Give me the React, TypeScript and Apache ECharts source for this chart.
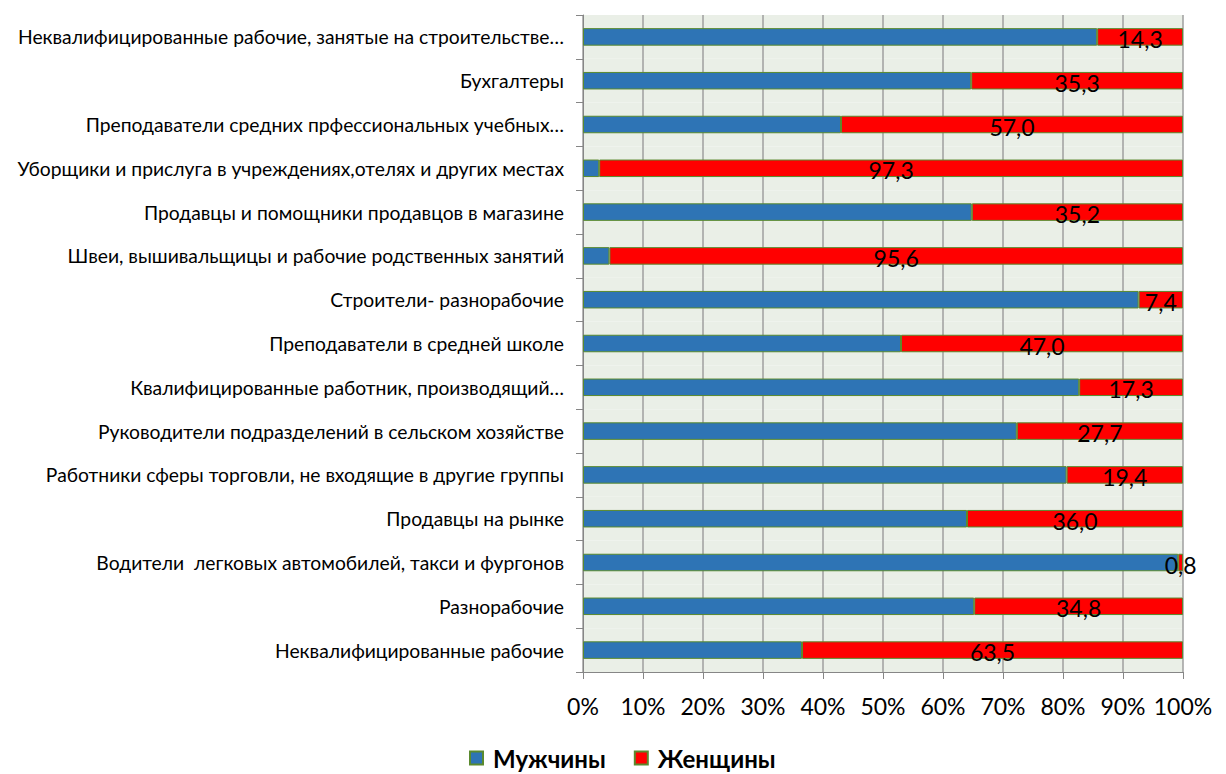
import React, { useEffect, useRef } from "react";
import * as echarts from "echarts";

const categories = [
  "Неквалифицированные рабочие, занятые на строительстве…",
  "Бухгалтеры",
  "Преподаватели средних прфессиональных учебных…",
  "Уборщики и прислуга в учреждениях,отелях и других местах",
  "Продавцы и помощники продавцов в магазине",
  "Швеи, вышивальщицы и рабочие родственных занятий",
  "Строители- разнорабочие",
  "Преподаватели в средней школе",
  "Квалифицированные работник, производящий…",
  "Руководители подразделений в сельском хозяйстве",
  "Работники сферы торговли, не входящие в другие группы",
  "Продавцы на рынке",
  "Водители  легковых автомобилей, такси и фургонов",
  "Разнорабочие",
  "Неквалифицированные рабочие",
];

const women = [14.3, 35.3, 57.0, 97.3, 35.2, 95.6, 7.4, 47.0, 17.3, 27.7, 19.4, 36.0, 0.8, 34.8, 63.5];
const men = [85.7, 64.7, 43.0, 2.7, 64.8, 4.4, 92.6, 53.0, 82.7, 72.3, 80.6, 64.0, 99.2, 65.2, 36.5];

const xTicks = [0, 10, 20, 30, 40, 50, 60, 70, 80, 90, 100];

const FONT = "Lato, 'Open Sans', sans-serif";

export default function App() {
  const ref = useRef<HTMLDivElement>(null);
  useEffect(() => {
    document.documentElement.style.overflow = "hidden";
    document.body.style.overflow = "hidden";
    if (!ref.current) return;
    const chart = echarts.init(ref.current, undefined, { renderer: "svg" });
    chart.setOption({
      animation: false,
      backgroundColor: "#ffffff",
      grid: { left: 575, right: 35, top: 7, bottom: 102, containLabel: false },
      legend: {
        top: 733,
        left: 456,
        itemWidth: 13,
        itemHeight: 13,
        itemGap: 28,
        icon: "rect",
        textStyle: { fontFamily: FONT, fontSize: 24, fontWeight: "bold", color: "#000", padding: [0, 0, 0, 5] },
        data: ["Мужчины", "Женщины"],
      },
      xAxis: {
        type: "value",
        min: xTicks[0],
        max: xTicks[xTicks.length - 1],
        interval: 10,
        axisLine: { show: true, lineStyle: { color: "#868686" } },
        axisTick: { show: true, length: 7, lineStyle: { color: "#868686" } },
        axisLabel: {
          formatter: (v: number) => v + "%",
          fontFamily: FONT,
          fontSize: 23,
          color: "#000",
          margin: 22,
        },
        splitLine: { show: true, lineStyle: { color: "#9f9f9f", width: 1.5 } },
      },
      yAxis: {
        type: "category",
        inverse: true,
        data: categories,
        axisLine: { show: true, lineStyle: { color: "#868686" } },
        axisTick: { show: true, length: 7, lineStyle: { color: "#868686" } },
        axisLabel: { fontFamily: FONT, fontSize: 19.3, color: "#000", margin: 19 },
        splitArea: { show: true, areaStyle: { color: ["#eaefe7", "#eaefe7"] } },
      },
      series: [
        {
          name: "Мужчины",
          type: "bar",
          stack: "total",
          barWidth: "40%",
          data: men,
          itemStyle: { color: "#2e74b5", borderColor: "#5a8a2e", borderWidth: 1 },
        },
        {
          name: "Женщины",
          type: "bar",
          stack: "total",
          barWidth: "40%",
          data: women,
          itemStyle: { color: "#ff0000", borderColor: "#5a8a2e", borderWidth: 1 },
          label: {
            show: true,
            position: "inside",
            offset: [0, 2],
            formatter: (p: any) => p.value.toFixed(1).replace(".", ","),
            fontFamily: FONT,
            fontSize: 23,
            color: "#000",
          },
        },
      ],
    });
    return () => chart.dispose();
  }, []);
  return <div ref={ref} style={{ width: 1210, height: 766 }} />;
}
